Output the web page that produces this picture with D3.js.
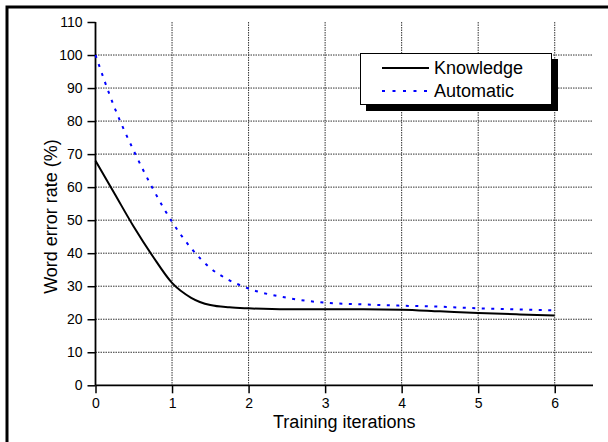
<!DOCTYPE html>
<html><head><meta charset="utf-8">
<script src="https://cdn.jsdelivr.net/npm/d3@7"></script>
<style>body{margin:0;background:#fff}svg{display:block}text{font-family:"Liberation Sans",Arial,sans-serif}</style>
</head><body><svg id="c" width="608" height="442"></svg>
<script>
const iterations = [0, 0.25, 0.5, 0.75, 1, 1.25, 1.5, 1.75, 2, 2.5, 3, 3.5, 4, 4.5, 5, 5.5, 6];
const knowledge = [68, 58, 48, 39, 31, 26.5, 24.3, 23.6, 23.3, 23.0, 23.0, 23.0, 22.9, 22.4, 21.9, 21.5, 21.1];
const automatic = [100, 84, 71, 59.5, 49.5, 41.5, 35.5, 31.8, 29.3, 26.5, 25, 24.5, 24.1, 23.8, 23.3, 23.0, 22.7];
const xTicks = [0, 1, 2, 3, 4, 5, 6];
const yTicks = [0, 10, 20, 30, 40, 50, 60, 70, 80, 90, 100, 110];
const seriesNames = ["Knowledge", "Automatic"];

const svg = d3.select("#c");
const L = 95.5, R = 593, T = 22, B = 385.3;
const x = d3.scaleLinear().domain([0, 6.5]).range([L, R]);
const y = d3.scaleLinear().domain([0, 110]).range([B, T]);

// outer border (runs off the right and bottom edges)
svg.append("rect").attr("x", 7).attr("y", 7).attr("width", 620).attr("height", 460)
  .attr("fill", "none").attr("stroke", "#000").attr("stroke-width", 3);

// grid
const grid = svg.append("g").attr("stroke", "#333").attr("stroke-width", 1).attr("stroke-dasharray", "1.5,1");
yTicks.filter(v => v > 0 && v < 110).forEach(v => {
  grid.append("line").attr("x1", L).attr("x2", R).attr("y1", y(v)).attr("y2", y(v));
});
xTicks.filter(v => v > 0).forEach(v => {
  grid.append("line").attr("x1", x(v)).attr("x2", x(v)).attr("y1", T).attr("y2", B);
});

// axes
const xAxis = svg.append("g").attr("transform", `translate(0,${B})`)
  .call(d3.axisBottom(x).tickValues(xTicks).tickSize(8).tickPadding(5).tickFormat(d3.format("d")));
xAxis.select(".domain").attr("d", `M${L},0H${R}`);
const yAxis = svg.append("g").attr("transform", `translate(${L},0)`)
  .call(d3.axisLeft(y).tickValues(yTicks).tickSize(8).tickPadding(5).tickFormat(d3.format("d")));
yAxis.select(".domain").attr("d", `M0,${T}V${B}`);
[xAxis, yAxis].forEach(a => {
  a.selectAll(".domain").attr("stroke-width", 1.8);
  a.selectAll(".tick line").attr("stroke-width", 1.5);
  a.selectAll("text").attr("font-size", 14).attr("fill", "#000").attr("font-family", '"Liberation Sans",Arial,sans-serif');
});

// labels
svg.append("text").attr("x", (L + R) / 2).attr("y", 428).attr("text-anchor", "middle")
  .attr("font-size", 18).text("Training iterations");
svg.append("text").attr("transform", `translate(57,216.5) rotate(-90)`).attr("text-anchor", "middle")
  .attr("font-size", 18).text("Word error rate (%)");

// lines
const line = vals => d3.line().x((d, i) => x(iterations[i])).y(d => y(d)).curve(d3.curveMonotoneX)(vals);
svg.append("path").attr("d", line(knowledge)).attr("fill", "none").attr("stroke", "#000").attr("stroke-width", 2);
svg.append("path").attr("d", line(automatic)).attr("fill", "none").attr("stroke", "#0000ff").attr("stroke-width", 2)
  .attr("stroke-dasharray", "3,6.5");

// legend
const lg = svg.append("g");
lg.append("rect").attr("x", 366).attr("y", 59).attr("width", 192).attr("height", 52).attr("fill", "#000");
lg.append("rect").attr("x", 360.5).attr("y", 53.5).attr("width", 191).attr("height", 51).attr("fill", "#fff").attr("stroke", "#000").attr("stroke-width", 1);
const styles = [{c: "#000", d: null}, {c: "#0000ff", d: "3,7.5"}];
seriesNames.forEach((n, i) => {
  const yy = 68 + i * 23;
  lg.append("line").attr("x1", 382).attr("x2", 429).attr("y1", yy).attr("y2", yy)
    .attr("stroke", styles[i].c).attr("stroke-width", 2).attr("stroke-dasharray", styles[i].d);
  lg.append("text").attr("x", 434).attr("y", yy + 6).attr("font-size", 18).text(n);
});
</script></body></html>
